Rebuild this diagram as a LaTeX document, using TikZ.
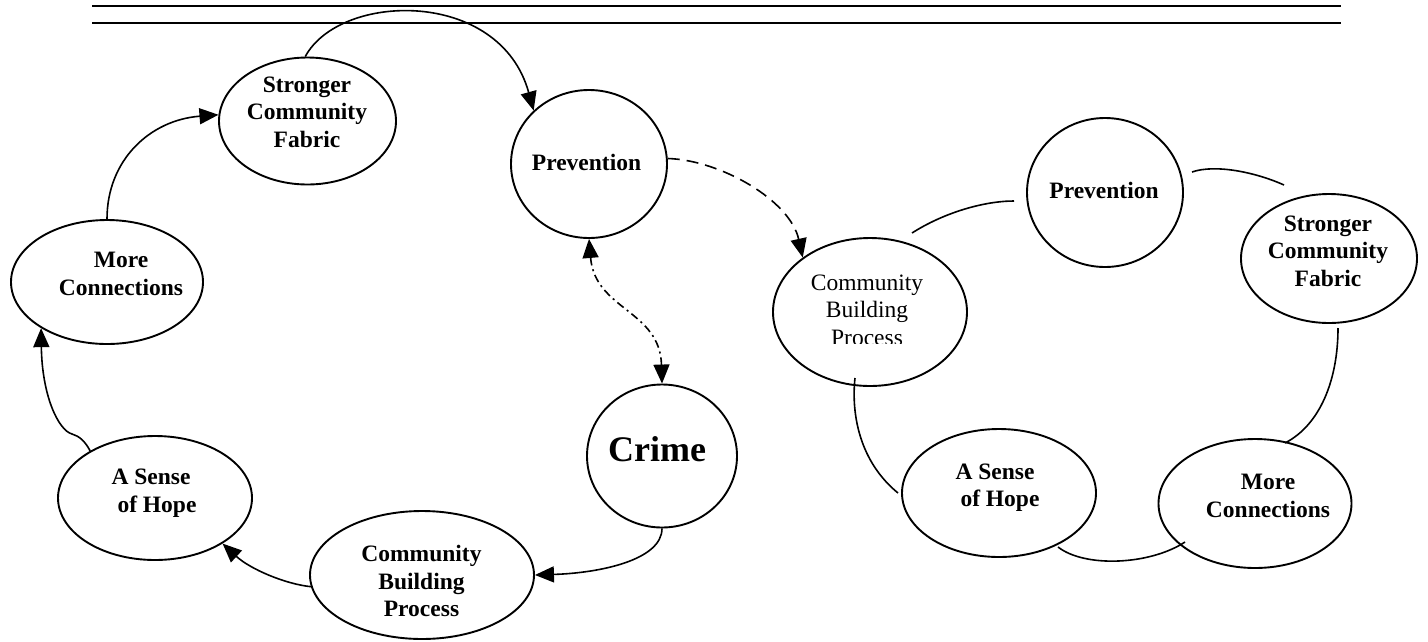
\documentclass[tikz,border=0pt]{standalone}
\usepackage{fontspec}
\setmainfont{Liberation Serif}
\usetikzlibrary{shapes.geometric,arrows.meta}
\begin{document}
\begin{tikzpicture}[x=1pt,y=-1pt,
  ell/.style 2 args={ellipse,draw,line width=1.9pt,inner sep=0pt,minimum width=#1pt,minimum height=#2pt},
  lbl/.style={align=center,font=\fontsize{23.5}{27.5}\selectfont\bfseries,inner sep=0pt},
  con/.style={line width=1.6pt},
  arr/.style={con,-{Triangle[length=19pt,width=16pt]}},
  arrboth/.style={con,{Triangle[length=19pt,width=16pt]}-{Triangle[length=19pt,width=16pt]}},
  longdash/.style={dash pattern=on 12pt off 7pt},
  dashdot/.style={dash pattern=on 8pt off 4pt on 2pt off 4pt},
  rule/.style={line width=2.2pt}]
\useasboundingbox (0,0) rectangle (1428,641);
\fill[white] (0,0) rectangle (1428,641);

% header rules
\draw[rule] (92,6) -- (1341,6);
\draw[rule] (92,22.7) -- (1341,22.7);

% left cycle shapes
\node[ell={177}{127}] (strL) at (307.5,121) {};
\node[ell={192}{124}] (mcL) at (107,282) {};
\node[ell={194}{124}] (sohL) at (155,498) {};
\node[ell={224}{128}] (cbL) at (422,575) {};
\node[ell={150}{143}] (crime) at (662,456) {};
\node[ell={156}{148}] (prevL) at (589,164) {};
% right cycle shapes
\node[ell={194}{148}] (cbR) at (870,312) {};
\node[ell={156}{149}] (prevR) at (1105,192.5) {};
\node[ell={176}{129}] (strR) at (1329,258.5) {};
\node[ell={194}{128}] (sohR) at (999,493) {};
\node[ell={193}{129}] (mcR) at (1255,503.5) {};

% labels
\node[lbl] (tStrL) at (307,112) {Stronger\\Community\\Fabric};
\node[lbl] (tMcL) at (121,274) {More\\Connections};
\node[lbl] (tSohL) at (151,493) {A Sense\\\hspace*{12pt}of Hope};
\node[lbl] (tCbL) at (421.5,581) {Community\\Building\\Process};
\node[lbl,font=\fontsize{36}{40}\selectfont\bfseries] (tCrime) at (657,449) {Crime};
\node[lbl] (tPrevL) at (586.5,162) {Prevention};
\node[lbl] (tPrevR) at (1104,190) {Prevention};
\node[lbl] (tStrR) at (1328,251) {Stronger\\Community\\Fabric};
\node[lbl] (tSohR) at (995,487.5) {A Sense\\\hspace*{10pt}of Hope};
\node[lbl] (tMcR) at (1268,496) {More\\Connections};
\begin{scope}
\clip (760,230) rectangle (980,343);
\node[lbl,font=\fontsize{23.5}{27.5}\selectfont] (tCbR) at (867,310) {Community\\Building\\Process};
\end{scope}

% left cycle connectors
\draw[arr] (strL.92) .. controls (340,-8) and (500,-12) .. (prevL.136);
\draw[arr] (mcL.north) .. controls (107,160) and (150,120) .. (strL.176);
\draw[arr] (sohL.144) .. controls (85,441) and (79,436) .. (72,434) .. controls (58,430) and (42,395) .. (mcL.215);
\draw[arr] (cbL.186) .. controls (285,584) and (250,569) .. (sohL.-34);
\draw[arr] (crime.south) .. controls (662,560) and (600,573) .. (cbL.east);
\draw[arr,longdash] (prevL.4) .. controls (720,160) and (790,200) .. (cbR.141);
\draw[arrboth,dashdot] (prevL.south) .. controls (595,310) and (660,310) .. (crime.north);

% right cycle connectors (free ends)
\coordinate (a1) at (912,233); \coordinate (a2) at (1014,201);
\coordinate (b1) at (1192,172); \coordinate (b2) at (1284,185);
\coordinate (c1) at (1338,328); \coordinate (c2) at (1285,443);
\coordinate (d1) at (1185,542); \coordinate (d2) at (1058,547);
\coordinate (e1) at (898,493); \coordinate (e2) at (855,378);
\draw[con] (a1) .. controls (945,212) and (985,201) .. (a2);
\draw[con] (b1) .. controls (1215,164) and (1255,172) .. (b2);
\draw[con] (c1) .. controls (1338,380) and (1320,425) .. (c2);
\draw[con] (d1) .. controls (1150,565) and (1085,568) .. (d2);
\draw[con] (e1) .. controls (860,462) and (851,415) .. (e2);
\end{tikzpicture}
\end{document}
